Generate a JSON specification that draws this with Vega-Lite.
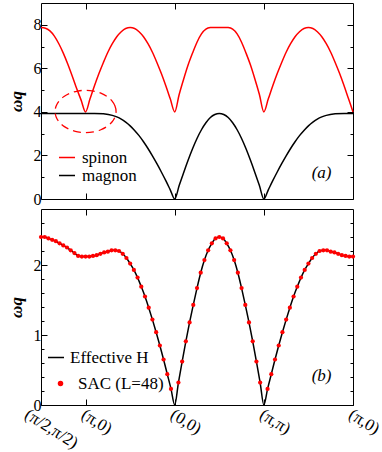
{
  "$schema": "https://vega.github.io/schema/vega-lite/v6.json",
  "padding": {"left": 6, "top": 2, "right": 0, "bottom": 0},
  "background": "white",
  "config": {
    "view": {"stroke": "black", "strokeWidth": 1},
    "font": "Liberation Serif, Times New Roman, serif",
    "axis": {"domain": false, "grid": false, "tickColor": "black", "tickWidth": 1, "labelFont": "Liberation Serif, Times New Roman, serif", "titleFont": "Liberation Serif, Times New Roman, serif", "labelFontSize": 16, "labelColor": "black", "titleColor": "black", "labelFlush": false, "labelOverlap": false, "labelBound": false},
    "legend": {"labelFont": "Liberation Serif, Times New Roman, serif", "labelFontSize": 17, "labelColor": "black", "padding": 0, "rowPadding": 0, "titlePadding": 0}
  },
  "datasets": {
    "spinon": [
      {"u":0,"w":7.87},{"u":0.05,"w":7.84},{"u":0.1,"w":7.72},{"u":0.15,"w":7.48},{"u":0.2,"w":7.13},{"u":0.25,"w":6.7},{"u":0.3,"w":6.2},{"u":0.35,"w":5.65},{"u":0.4,"w":5.07},{"u":0.45,"w":4.54},{"u":0.5,"w":4.0},
      {"u":0.55,"w":4.6},{"u":0.6,"w":5.2},{"u":0.65,"w":5.76},{"u":0.7,"w":6.27},{"u":0.75,"w":6.74},{"u":0.8,"w":7.13},{"u":0.85,"w":7.45},{"u":0.9,"w":7.68},{"u":0.95,"w":7.83},{"u":1.0,"w":7.87},
      {"u":1.05,"w":7.83},{"u":1.1,"w":7.68},{"u":1.15,"w":7.45},{"u":1.2,"w":7.13},{"u":1.25,"w":6.74},{"u":1.3,"w":6.27},{"u":1.35,"w":5.76},{"u":1.4,"w":5.2},{"u":1.45,"w":4.6},{"u":1.5,"w":4.0},
      {"u":1.55,"w":4.8},{"u":1.6,"w":5.5},{"u":1.65,"w":6.15},{"u":1.7,"w":6.7},{"u":1.75,"w":7.2},{"u":1.8,"w":7.58},{"u":1.85,"w":7.8},{"u":1.9,"w":7.87},{"u":1.95,"w":7.88},{"u":2.0,"w":7.88},
      {"u":2.05,"w":7.88},{"u":2.1,"w":7.87},{"u":2.15,"w":7.8},{"u":2.2,"w":7.58},{"u":2.25,"w":7.2},{"u":2.3,"w":6.7},{"u":2.35,"w":6.15},{"u":2.4,"w":5.5},{"u":2.45,"w":4.8},{"u":2.5,"w":4.0},
      {"u":2.55,"w":4.6},{"u":2.6,"w":5.2},{"u":2.65,"w":5.76},{"u":2.7,"w":6.27},{"u":2.75,"w":6.74},{"u":2.8,"w":7.13},{"u":2.85,"w":7.45},{"u":2.9,"w":7.68},{"u":2.95,"w":7.83},{"u":3.0,"w":7.87},
      {"u":3.05,"w":7.83},{"u":3.1,"w":7.68},{"u":3.15,"w":7.45},{"u":3.2,"w":7.13},{"u":3.25,"w":6.74},{"u":3.3,"w":6.27},{"u":3.35,"w":5.76},{"u":3.4,"w":5.2},{"u":3.45,"w":4.6},{"u":3.5,"w":4.0}
    ],
    "magnon": [
      {"u":0,"w":3.93},{"u":0.25,"w":3.93},{"u":0.5,"w":3.93},{"u":0.6,"w":3.93},{"u":0.7,"w":3.91},{"u":0.8,"w":3.84},{"u":0.85,"w":3.77},{"u":0.9,"w":3.67},{"u":0.95,"w":3.53},{"u":1.0,"w":3.36},
      {"u":1.05,"w":3.15},{"u":1.1,"w":2.91},{"u":1.15,"w":2.63},{"u":1.2,"w":2.32},{"u":1.25,"w":1.98},{"u":1.3,"w":1.62},{"u":1.35,"w":1.24},{"u":1.4,"w":0.84},{"u":1.45,"w":0.42},{"u":1.5,"w":0},
      {"u":1.55,"w":0.615},{"u":1.6,"w":1.21},{"u":1.65,"w":1.78},{"u":1.7,"w":2.31},{"u":1.75,"w":2.78},{"u":1.8,"w":3.18},{"u":1.85,"w":3.5},{"u":1.9,"w":3.74},{"u":1.95,"w":3.88},{"u":2.0,"w":3.93},
      {"u":2.05,"w":3.88},{"u":2.1,"w":3.74},{"u":2.15,"w":3.5},{"u":2.2,"w":3.18},{"u":2.25,"w":2.78},{"u":2.3,"w":2.31},{"u":2.35,"w":1.78},{"u":2.4,"w":1.21},{"u":2.45,"w":0.615},{"u":2.5,"w":0},
      {"u":2.55,"w":0.42},{"u":2.6,"w":0.84},{"u":2.65,"w":1.24},{"u":2.7,"w":1.62},{"u":2.75,"w":1.98},{"u":2.8,"w":2.32},{"u":2.85,"w":2.63},{"u":2.9,"w":2.91},{"u":2.95,"w":3.15},{"u":3.0,"w":3.36},
      {"u":3.05,"w":3.53},{"u":3.1,"w":3.67},{"u":3.15,"w":3.77},{"u":3.2,"w":3.84},{"u":3.3,"w":3.91},{"u":3.4,"w":3.93},{"u":3.5,"w":3.93}
    ],
    "ellipse": [
      {"i":0,"u":0.842,"w":4.02},{"i":1,"u":0.83,"w":4.271},{"i":2,"u":0.796,"w":4.505},{"i":3,"u":0.742,"w":4.706},{"i":4,"u":0.671,"w":4.86},{"i":5,"u":0.589,"w":4.957},
      {"i":6,"u":0.5,"w":4.99},{"i":7,"u":0.411,"w":4.957},{"i":8,"u":0.329,"w":4.86},{"i":9,"u":0.258,"w":4.706},{"i":10,"u":0.204,"w":4.505},{"i":11,"u":0.17,"w":4.271},
      {"i":12,"u":0.158,"w":4.02},{"i":13,"u":0.17,"w":3.769},{"i":14,"u":0.204,"w":3.535},{"i":15,"u":0.258,"w":3.334},{"i":16,"u":0.329,"w":3.18},{"i":17,"u":0.411,"w":3.083},
      {"i":18,"u":0.5,"w":3.05},{"i":19,"u":0.589,"w":3.083},{"i":20,"u":0.671,"w":3.18},{"i":21,"u":0.742,"w":3.334},{"i":22,"u":0.796,"w":3.535},{"i":23,"u":0.83,"w":3.769}
    ],
    "tagA": [{"u":3.147,"w":1.18,"t":"(a)"}],
    "tagB": [{"u":3.147,"w":0.42,"t":"(b)"}],
    "eff": [
      {"u":0,"w":2.4},{"u":0.0417,"w":2.4},{"u":0.0833,"w":2.38},{"u":0.125,"w":2.36},{"u":0.1667,"w":2.34},{"u":0.2083,"w":2.31},{"u":0.25,"w":2.28},{"u":0.2917,"w":2.25},{"u":0.3333,"w":2.21},{"u":0.375,"w":2.17},
      {"u":0.4167,"w":2.13},{"u":0.4583,"w":2.12},{"u":0.5,"w":2.12},{"u":0.5417,"w":2.12},{"u":0.5833,"w":2.13},{"u":0.625,"w":2.14},{"u":0.6667,"w":2.16},{"u":0.7083,"w":2.18},{"u":0.75,"w":2.19},{"u":0.7917,"w":2.21},
      {"u":0.8333,"w":2.21},{"u":0.875,"w":2.2},{"u":0.9167,"w":2.16},{"u":0.9583,"w":2.1},{"u":1,"w":2.02},{"u":1.0417,"w":1.93},{"u":1.0833,"w":1.82},{"u":1.125,"w":1.69},{"u":1.1667,"w":1.55},{"u":1.2083,"w":1.39},
      {"u":1.25,"w":1.22},{"u":1.2917,"w":1.04},{"u":1.3333,"w":0.85},{"u":1.375,"w":0.65},{"u":1.4167,"w":0.44},{"u":1.4583,"w":0.23},{"u":1.5,"w":0},{"u":1.5417,"w":0.32},{"u":1.5833,"w":0.62},{"u":1.625,"w":0.91},
      {"u":1.6667,"w":1.18},{"u":1.7083,"w":1.43},{"u":1.75,"w":1.67},{"u":1.7917,"w":1.89},{"u":1.8333,"w":2.07},{"u":1.875,"w":2.21},{"u":1.9167,"w":2.31},{"u":1.9583,"w":2.38},{"u":2,"w":2.4},{"u":2.0417,"w":2.38},
      {"u":2.0833,"w":2.31},{"u":2.125,"w":2.21},{"u":2.1667,"w":2.07},{"u":2.2083,"w":1.89},{"u":2.25,"w":1.67},{"u":2.2917,"w":1.43},{"u":2.3333,"w":1.18},{"u":2.375,"w":0.91},{"u":2.4167,"w":0.62},{"u":2.4583,"w":0.32},
      {"u":2.5,"w":0},{"u":2.5417,"w":0.23},{"u":2.5833,"w":0.44},{"u":2.625,"w":0.65},{"u":2.6667,"w":0.85},{"u":2.7083,"w":1.04},{"u":2.75,"w":1.22},{"u":2.7917,"w":1.39},{"u":2.8333,"w":1.55},{"u":2.875,"w":1.69},
      {"u":2.9167,"w":1.82},{"u":2.9583,"w":1.93},{"u":3,"w":2.02},{"u":3.0417,"w":2.1},{"u":3.0833,"w":2.16},{"u":3.125,"w":2.2},{"u":3.1667,"w":2.21},{"u":3.2083,"w":2.21},{"u":3.25,"w":2.19},{"u":3.2917,"w":2.18},
      {"u":3.3333,"w":2.16},{"u":3.375,"w":2.14},{"u":3.4167,"w":2.13},{"u":3.4583,"w":2.12},{"u":3.5,"w":2.12}
    ],
    "sac": [
      {"u":0,"w":2.4},{"u":0.0417,"w":2.4},{"u":0.0833,"w":2.38},{"u":0.125,"w":2.36},{"u":0.1667,"w":2.34},{"u":0.2083,"w":2.31},{"u":0.25,"w":2.28},{"u":0.2917,"w":2.25},{"u":0.3333,"w":2.21},{"u":0.375,"w":2.17},
      {"u":0.4167,"w":2.13},{"u":0.4583,"w":2.12},{"u":0.5,"w":2.12},{"u":0.5417,"w":2.12},{"u":0.5833,"w":2.13},{"u":0.625,"w":2.14},{"u":0.6667,"w":2.16},{"u":0.7083,"w":2.18},{"u":0.75,"w":2.19},{"u":0.7917,"w":2.21},
      {"u":0.8333,"w":2.21},{"u":0.875,"w":2.2},{"u":0.9167,"w":2.16},{"u":0.9583,"w":2.1},{"u":1,"w":2.02},{"u":1.0417,"w":1.93},{"u":1.0833,"w":1.82},{"u":1.125,"w":1.69},{"u":1.1667,"w":1.55},{"u":1.2083,"w":1.39},
      {"u":1.25,"w":1.22},{"u":1.2917,"w":1.04},{"u":1.3333,"w":0.85},{"u":1.375,"w":0.65},{"u":1.4167,"w":0.44},{"u":1.4583,"w":0.23},{"u":1.5417,"w":0.32},{"u":1.5833,"w":0.62},{"u":1.625,"w":0.91},
      {"u":1.6667,"w":1.18},{"u":1.7083,"w":1.43},{"u":1.75,"w":1.67},{"u":1.7917,"w":1.89},{"u":1.8333,"w":2.07},{"u":1.875,"w":2.21},{"u":1.9167,"w":2.31},{"u":1.9583,"w":2.38},{"u":2,"w":2.4},{"u":2.0417,"w":2.38},
      {"u":2.0833,"w":2.31},{"u":2.125,"w":2.21},{"u":2.1667,"w":2.07},{"u":2.2083,"w":1.89},{"u":2.25,"w":1.67},{"u":2.2917,"w":1.43},{"u":2.3333,"w":1.18},{"u":2.375,"w":0.91},{"u":2.4167,"w":0.62},{"u":2.4583,"w":0.32},
      {"u":2.5417,"w":0.23},{"u":2.5833,"w":0.44},{"u":2.625,"w":0.65},{"u":2.6667,"w":0.85},{"u":2.7083,"w":1.04},{"u":2.75,"w":1.22},{"u":2.7917,"w":1.39},{"u":2.8333,"w":1.55},{"u":2.875,"w":1.69},
      {"u":2.9167,"w":1.82},{"u":2.9583,"w":1.93},{"u":3,"w":2.02},{"u":3.0417,"w":2.1},{"u":3.0833,"w":2.16},{"u":3.125,"w":2.2},{"u":3.1667,"w":2.21},{"u":3.2083,"w":2.21},{"u":3.25,"w":2.19},{"u":3.2917,"w":2.18},
      {"u":3.3333,"w":2.16},{"u":3.375,"w":2.14},{"u":3.4167,"w":2.13},{"u":3.4583,"w":2.12},{"u":3.5,"w":2.12}
    ]
  },
  "spacing": 10,
  "bounds": "flush",
  "resolve": {
    "scale": {"color": "independent", "stroke": "independent", "fill": "independent"},
    "legend": {"color": "independent", "stroke": "independent", "fill": "independent"}
  },
  "vconcat": [
    {
      "width": 312,
      "height": 196,
      "resolve": {"axis": {"x": "independent", "y": "independent"}},
      "layer": [
        {
          "data": {"name": "spinon"},
          "mark": {"type": "line", "strokeWidth": 1.5, "interpolate": "monotone"},
          "encoding": {
            "x": {"field": "u", "type": "quantitative", "scale": {"domain": [0, 3.5], "nice": false, "zero": false},
                  "axis": {"orient": "bottom", "values": [0.5, 1.5, 2.5], "tickSize": -6, "labels": false, "title": null}},
            "y": {"field": "w", "type": "quantitative", "scale": {"domain": [0, 9], "nice": false},
                  "axis": {"orient": "left", "values": [0,1,2,3,4,5,6,7,8], "tickSize": -6, "format": ".0f",
                           "tickDash": {"condition": {"test": "datum.value % 2 !== 0", "value": [3, 20]}, "value": []},
                           "labelExpr": "datum.value % 2 === 0 ? datum.label : ''", "labelPadding": 6,
                           "title": "ωq", "titleFontSize": 17, "titleFontStyle": "italic", "titleFontWeight": "bold", "titlePadding": 8}},
            "color": {"datum": "spinon", "type": "nominal",
                      "scale": {"domain": ["spinon", "magnon"], "range": ["#ff0000", "#000000"]},
                      "legend": {"orient": "none", "legendX": 17, "legendY": 147, "title": null, "symbolType": "stroke", "symbolSize": 256, "symbolStrokeWidth": 1.5, "labelOffset": 6, "clipHeight": 15}}
          }
        },
        {
          "data": {"name": "magnon"},
          "mark": {"type": "line", "strokeWidth": 1.5, "interpolate": "monotone"},
          "encoding": {
            "x": {"field": "u", "type": "quantitative",
                  "axis": {"orient": "top", "values": [0.5, 1.5, 2.5], "tickSize": -6, "labels": false, "title": null}},
            "y": {"field": "w", "type": "quantitative",
                  "axis": {"orient": "right", "values": [0,1,2,3,4,5,6,7,8], "tickSize": -6,
                           "tickDash": {"condition": {"test": "datum.value % 2 !== 0", "value": [3, 20]}, "value": []},
                           "labels": false, "title": null}},
            "color": {"datum": "magnon", "type": "nominal"}
          }
        },
        {
          "data": {"name": "ellipse"},
          "mark": {"type": "line", "color": "#ff0000", "strokeWidth": 1.3, "strokeDash": [8, 5], "interpolate": "cardinal-closed"},
          "encoding": {
            "x": {"field": "u", "type": "quantitative", "axis": null},
            "y": {"field": "w", "type": "quantitative", "axis": null},
            "order": {"field": "i", "type": "quantitative"}
          }
        },
        {
          "data": {"name": "tagA"},
          "mark": {"type": "text", "font": "Liberation Serif, Times New Roman, serif", "fontSize": 17, "fontStyle": "italic", "align": "center", "baseline": "middle", "color": "black"},
          "encoding": {
            "x": {"field": "u", "type": "quantitative", "axis": null},
            "y": {"field": "w", "type": "quantitative", "axis": null},
            "text": {"field": "t"}
          }
        }
      ]
    },
    {
      "width": 312,
      "height": 196,
      "resolve": {"axis": {"x": "independent", "y": "independent"}},
      "layer": [
        {
          "data": {"name": "eff"},
          "mark": {"type": "line", "strokeWidth": 1.5, "interpolate": "monotone"},
          "encoding": {
            "x": {"field": "u", "type": "quantitative", "scale": {"domain": [0, 3.5], "nice": false, "zero": false},
                  "axis": {"orient": "bottom", "values": [0, 0.5, 1.5, 2.5, 3.5], "tickSize": -6, "labelFontSize": 17,
                           "labelExpr": "datum.value == 0 ? '(π/2,π/2)' : datum.value == 0.5 ? '(π,0)' : datum.value == 1.5 ? '(0,0)' : datum.value == 2.5 ? '(π,π)' : '(π,0)'",
                           "labelAngle": 32, "labelAlign": "left", "labelBaseline": "top", "labelPadding": 7,
                           "labelOffset": {"condition": {"test": "datum.value == 0", "value": -11}, "value": 1},
                           "title": null}},
            "y": {"field": "w", "type": "quantitative", "scale": {"domain": [0, 2.8], "nice": false},
                  "axis": {"orient": "left", "values": [0,0.2,0.4,0.6,0.8,1,1.2,1.4,1.6,1.8,2,2.2,2.4,2.6], "tickSize": -6, "format": ".0f",
                           "tickDash": {"condition": {"test": "abs(datum.value - round(datum.value)) > 0.01", "value": [3, 20]}, "value": []},
                           "labelExpr": "abs(datum.value - round(datum.value)) < 0.01 ? datum.label : ''", "labelPadding": 6,
                           "title": "ωq", "titleFontSize": 17, "titleFontStyle": "italic", "titleFontWeight": "bold", "titlePadding": 8}},
            "stroke": {"datum": "Effective H", "type": "nominal",
                       "scale": {"domain": ["Effective H"], "range": ["#000000"]},
                       "legend": {"orient": "none", "legendX": 6, "legendY": 141, "title": null, "symbolType": "stroke", "symbolSize": 256, "symbolStrokeWidth": 1.5, "labelOffset": 5, "clipHeight": 15}}
          }
        },
        {
          "data": {"name": "sac"},
          "mark": {"type": "point", "filled": true, "size": 18, "opacity": 1},
          "encoding": {
            "x": {"field": "u", "type": "quantitative",
                  "axis": {"orient": "top", "values": [0.5, 1.5, 2.5], "tickSize": -6, "labels": false, "title": null}},
            "y": {"field": "w", "type": "quantitative",
                  "axis": {"orient": "right", "values": [0,0.2,0.4,0.6,0.8,1,1.2,1.4,1.6,1.8,2,2.2,2.4,2.6], "tickSize": -6,
                           "tickDash": {"condition": {"test": "abs(datum.value - round(datum.value)) > 0.01", "value": [3, 20]}, "value": []},
                           "labels": false, "title": null}},
            "fill": {"datum": "SAC (L=48)", "type": "nominal",
                     "scale": {"domain": ["SAC (L=48)"], "range": ["#ff0000"]},
                     "legend": {"orient": "none", "legendX": 11, "legendY": 167, "title": null, "symbolType": "circle", "symbolSize": 30, "labelOffset": 9, "clipHeight": 15}}
          }
        },
        {
          "data": {"name": "tagB"},
          "mark": {"type": "text", "font": "Liberation Serif, Times New Roman, serif", "fontSize": 17, "fontStyle": "italic", "align": "center", "baseline": "middle", "color": "black"},
          "encoding": {
            "x": {"field": "u", "type": "quantitative", "axis": null},
            "y": {"field": "w", "type": "quantitative", "axis": null},
            "text": {"field": "t"}
          }
        }
      ]
    }
  ]
}
